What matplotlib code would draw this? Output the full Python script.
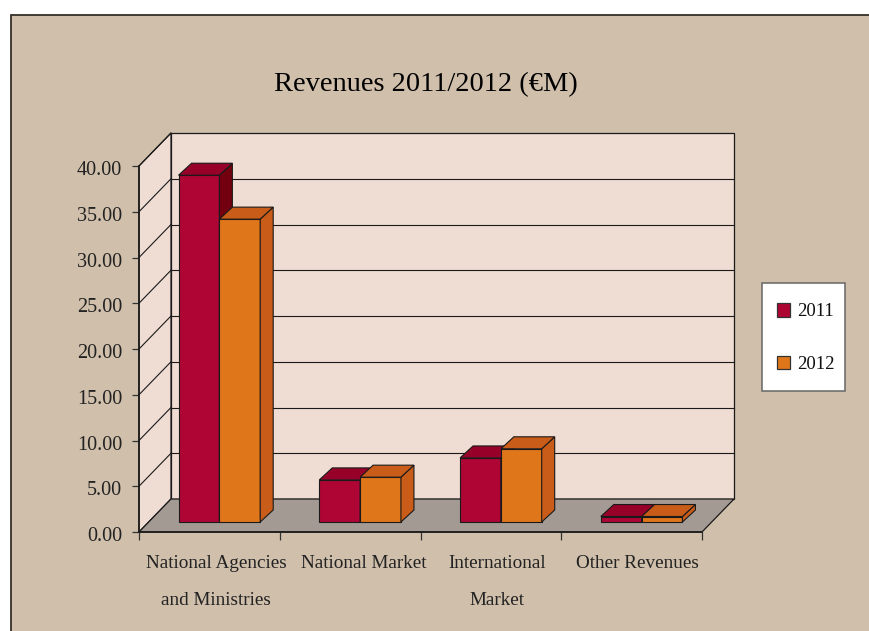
import numpy as np
import matplotlib
matplotlib.use("Agg")
import matplotlib.pyplot as plt
from matplotlib.patches import Rectangle, Patch
from matplotlib.transforms import Affine2D

categories = ["National Agencies\nand Ministries", "National Market", "International\nMarket", "Other Revenues"]
years = ["2011", "2012"]
values_2011 = [37.9, 4.6, 7.0, 0.6]
values_2012 = [33.1, 4.9, 8.0, 0.6]
y_ticks = [0, 5, 10, 15, 20, 25, 30, 35, 40]

W, H = 870, 631
TAN = "#d0bfab"
WALL = "#efdcd3"
FLOOR = "#a49a94"
RED, RED_TOP, RED_SIDE = "#ae0535", "#970028", "#72000f"
ORANGE, ORANGE_TOP, ORANGE_SIDE = "#e0761a", "#c95c18", "#c95c18"
LINE = "#1a1a1a"

plt.rcParams["font.family"] = ["Liberation Serif", "DejaVu Serif"]

fig = plt.figure(figsize=(W / 100, H / 100), dpi=100, facecolor="white")


def figx(x):
    return x / W


def figy(y):
    return 1 - y / H


# chart panel, runs off the right and bottom edges
fig.patches.append(Rectangle((figx(11.5), figy(640)), figx(870), figy(14.5) - figy(640),
                             transform=fig.transFigure, facecolor=TAN, edgecolor="#333029", lw=1.3, zorder=-1))

ax = fig.add_axes([figx(139), figy(532), figx(702 - 139), figy(166) - figy(532)])
ax.set_xlim(0, 4)
ax.set_ylim(0, 40)
ax.patch.set_visible(False)

# pixel shifts for the fake 3d
DEPTH = (32, 33)
BASE = (10, 10)
BAR_DEPTH = (13, 12)
back = ax.transData + Affine2D().translate(*DEPTH)
base = ax.transData + Affine2D().translate(*BASE)
top_off = ax.transData + Affine2D().translate(BASE[0] + BAR_DEPTH[0], BASE[1] + BAR_DEPTH[1])
px = Affine2D()

# back wall, floor and side wall
ax.add_patch(Rectangle((0, 0), 4, 40, transform=back, facecolor=WALL, edgecolor=LINE, lw=0.9, clip_on=False, zorder=1))
left_wall = np.array([ax.transData.transform(p) for p in [(0, 0), (0, 40)]] +
                     [back.transform(p) for p in [(0, 40), (0, 0)]])
floor = np.array([ax.transData.transform(p) for p in [(0, 0), (4, 0)]] +
                 [back.transform(p) for p in [(4, 0), (0, 0)]])
for pts, col in [(left_wall, WALL), (floor, FLOOR)]:
    ax.fill(pts[:, 0], pts[:, 1], transform=px, facecolor=col, edgecolor=LINE, lw=0.9, clip_on=False, zorder=1.5)

# gridlines, back wall then side wall
for v in y_ticks[1:-1]:
    ax.plot([0, 4], [v, v], transform=back, color=LINE, lw=0.8, clip_on=False, zorder=2)
for v in y_ticks[1:]:
    a = ax.transData.transform((0, v))
    b = back.transform((0, v))
    ax.plot([a[0], b[0]], [a[1], b[1]], transform=px, color=LINE, lw=0.8, clip_on=False, zorder=2)

# bars
x = np.arange(len(categories)) + 0.5
bw = 0.29
for offs, vals, face, top, side in [(-1, values_2011, RED, RED_TOP, RED_SIDE),
                                    (0, values_2012, ORANGE, ORANGE_TOP, ORANGE_SIDE)]:
    left = x + offs * bw
    ax.bar(left, vals, width=bw, align="edge", color=face, edgecolor=LINE, lw=0.8,
           transform=base, clip_on=False, zorder=3)
    for lo, v in zip(left, vals):
        hi = lo + bw
        p0 = base.transform((lo, v))
        p1 = base.transform((hi, v))
        p2 = top_off.transform((hi, v))
        p3 = top_off.transform((lo, v))
        p4 = base.transform((hi, 0))
        p5 = top_off.transform((hi, 0))
        ax.fill(*zip(p1, p2, p5, p4), transform=px, facecolor=side, edgecolor=LINE, lw=0.8, clip_on=False, zorder=3)
        ax.fill(*zip(p0, p1, p2, p3), transform=px, facecolor=top, edgecolor=LINE, lw=0.8, clip_on=False, zorder=3)

# axes
for s in ["top", "right"]:
    ax.spines[s].set_visible(False)
for s in ["left", "bottom"]:
    ax.spines[s].set_color(LINE)
    ax.spines[s].set_linewidth(1.2)
    ax.spines[s].set_zorder(4)
ax.set_yticks(y_ticks)
ax.set_yticklabels([f"{v:.2f}" for v in y_ticks], fontsize=14.5, color="#222222")
ax.tick_params(axis="y", length=5, width=0.9, color="#333333", pad=7)
for lbl in ax.get_yticklabels():
    lbl.set_transform(lbl.get_transform() + Affine2D().translate(0, -2))
ax.set_xticks(range(5))
ax.set_xticklabels([])
ax.tick_params(axis="x", length=6, width=0.9, color="#333333")

LABEL_SHIFT = [7, 14, 6, 6]
for xi, lab, dx in zip(x, categories, LABEL_SHIFT):
    ax.annotate(lab, (xi, 0), xytext=(dx, -23), textcoords="offset pixels", ha="center", va="top",
                fontsize=13.8, color="#222222", linespacing=2.55, annotation_clip=False)

fig.text(figx(426), figy(85), "Revenues 2011/2012 (€M)", ha="center", va="center", fontsize=20.5, color="black")

# legend
fig.patches.append(Rectangle((figx(762), figy(391)), figx(83), figy(283) - figy(391),
                             transform=fig.transFigure, facecolor="white", edgecolor="#666666", lw=1.1))
handles = [Patch(facecolor=RED, edgecolor="#333333", lw=0.9), Patch(facecolor=ORANGE, edgecolor="#333333", lw=0.9)]
fig.legend(handles, years, frameon=False, loc="center left", bbox_to_anchor=(figx(762), figy(338)),
           fontsize=13.5, handlelength=0.7, handleheight=0.75, handletextpad=0.35, labelspacing=1.87, borderpad=0.3,
           labelcolor="#111111")

fig.savefig("out.png", dpi=100, facecolor="white")
